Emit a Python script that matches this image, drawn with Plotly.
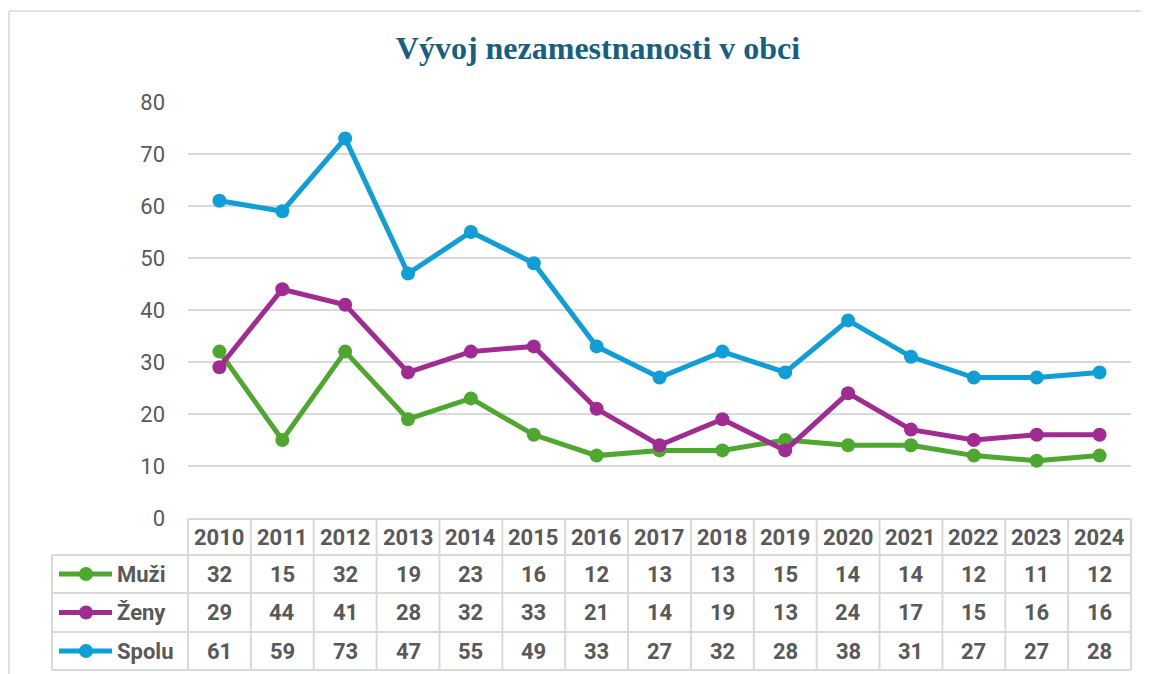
import plotly.graph_objects as go

years = ["2010", "2011", "2012", "2013", "2014", "2015", "2016", "2017",
         "2018", "2019", "2020", "2021", "2022", "2023", "2024"]
muzi = [32, 15, 32, 19, 23, 16, 12, 13, 13, 15, 14, 14, 12, 11, 12]
zeny = [29, 44, 41, 28, 32, 33, 21, 14, 19, 13, 24, 17, 15, 16, 16]
spolu = [61, 59, 73, 47, 55, 49, 33, 27, 32, 28, 38, 31, 27, 27, 28]
series_names = ["Muži", "Ženy", "Spolu"]
series_colors = ["#4EA72E", "#A02B93", "#0F9ED5"]
title_text = "Vývoj nezamestnanosti v obci"

# page body has an 8px margin; compensate so the figure fills the window
OFF = 8
W, H = 1149 - OFF, 674 - OFF
def px(x): return (x - OFF) / W
def py(y): return 1 - (y - OFF) / H

# plot area in (window) pixels
PL, PR = 188, 1131
PT, PB = 102, 518
# table rows (pixel boundaries)
rows_y = [519, 555, 593, 632, 670]
LEG_L = 52
GRID = "#D9D9D9"
TXT = "#595959"
FONT = "Roboto"
FS = 22

fig = go.Figure()
xs = list(range(len(years)))
for name, vals, col in zip(series_names, [muzi, zeny, spolu], series_colors):
    fig.add_trace(go.Scatter(
        x=xs, y=vals, name=name, mode="lines+markers",
        line=dict(color=col, width=5),
        marker=dict(color=col, size=14),
        showlegend=False, hoverinfo="skip"))

shapes = []
annotations = []

# outer chart border
shapes.append(dict(type="line", xref="paper", yref="paper",
                   x0=px(9), x1=px(1170), y0=py(11), y1=py(11),
                   line=dict(color="#D9D9D9", width=1.5)))
shapes.append(dict(type="line", xref="paper", yref="paper",
                   x0=px(9), x1=px(9), y0=py(11), y1=py(700),
                   line=dict(color="#D9D9D9", width=1.5)))

n = len(years)
cw = (PR - PL) / n
# horizontal table lines
shapes.append(dict(type="line", xref="paper", yref="paper",
                   x0=px(PL), x1=px(PR), y0=py(rows_y[0]), y1=py(rows_y[0]),
                   line=dict(color=GRID, width=2)))
for yy in rows_y[1:]:
    shapes.append(dict(type="line", xref="paper", yref="paper",
                       x0=px(LEG_L), x1=px(PR), y0=py(yy), y1=py(yy),
                       line=dict(color=GRID, width=2)))
# vertical table lines
for k in range(n + 1):
    xx = PL + k * cw
    shapes.append(dict(type="line", xref="paper", yref="paper",
                       x0=px(xx), x1=px(xx), y0=py(rows_y[0]), y1=py(rows_y[-1]),
                       line=dict(color=GRID, width=2)))
shapes.append(dict(type="line", xref="paper", yref="paper",
                   x0=px(LEG_L), x1=px(LEG_L), y0=py(rows_y[1]), y1=py(rows_y[-1]),
                   line=dict(color=GRID, width=2)))

# header years
for k, yr in enumerate(years):
    annotations.append(dict(xref="paper", yref="paper",
                            x=px(PL + (k + 0.5) * cw), y=py((rows_y[0] + rows_y[1]) / 2),
                            text=f"<b>{yr}</b>", showarrow=False,
                            font=dict(family=FONT, size=FS, color=TXT),
                            xanchor="center", yanchor="middle"))
# rows
for r, (name, vals, col) in enumerate(zip(series_names, [muzi, zeny, spolu], series_colors)):
    yc = (rows_y[r + 1] + rows_y[r + 2]) / 2
    for k, v in enumerate(vals):
        annotations.append(dict(xref="paper", yref="paper",
                                x=px(PL + (k + 0.5) * cw), y=py(yc),
                                text=f"<b>{v}</b>", showarrow=False,
                                font=dict(family=FONT, size=FS, color=TXT),
                                xanchor="center", yanchor="middle"))
    # legend key
    shapes.append(dict(type="line", xref="paper", yref="paper",
                       x0=px(59), x1=px(112), y0=py(yc), y1=py(yc),
                       line=dict(color=col, width=5)))
    shapes.append(dict(type="circle", xref="paper", yref="paper",
                       x0=px(86 - 7), x1=px(86 + 7),
                       y0=py(yc - 7), y1=py(yc + 7),
                       fillcolor=col, line=dict(color=col, width=0)))
    annotations.append(dict(xref="paper", yref="paper",
                            x=px(115), y=py(yc),
                            text=f"<b>{name}</b>", showarrow=False,
                            font=dict(family=FONT, size=FS, color=TXT),
                            xanchor="left", yanchor="middle"))

fig.update_layout(
    width=W, height=H,
    margin=dict(l=0, r=0, t=0, b=0, pad=0, autoexpand=False),
    paper_bgcolor="white", plot_bgcolor="white",
    title=dict(text=f"<b>{title_text}</b>", x=px(598), y=py(48),
               xref="paper", yref="paper", automargin=False,
               xanchor="center", yanchor="middle",
               font=dict(family="Liberation Serif", size=32, color="#156082")),
    xaxis=dict(domain=[px(PL), px(PR)], range=[-0.5, n - 0.5],
               showticklabels=False, showgrid=False, zeroline=False,
               showline=False, fixedrange=True, automargin=False),
    yaxis=dict(domain=[py(PB), py(PT)], range=[0, 80], dtick=10,
               showgrid=True, gridcolor=GRID, gridwidth=1.5,
               zeroline=False, showline=False, automargin=False,
               tickfont=dict(family=FONT, size=FS, color=TXT),
               ticks="", ticklabelstandoff=22),
    shapes=shapes,
    annotations=annotations,
)

fig.write_html("out.html")
